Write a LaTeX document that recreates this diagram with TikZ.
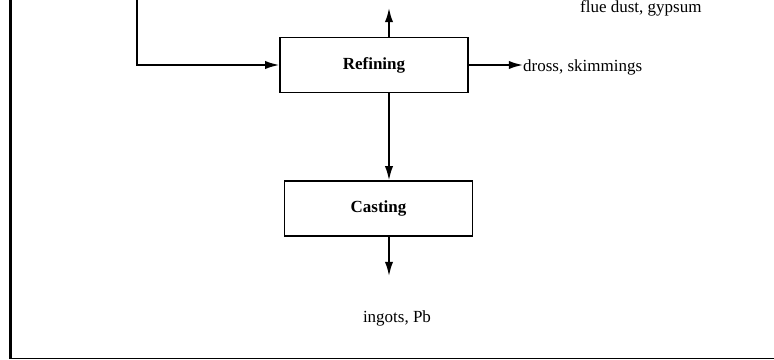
\documentclass[tikz,border=0pt]{standalone}
\usepackage{fontspec}
\setmainfont{Liberation Serif}
\usetikzlibrary{arrows.meta,positioning}
\tikzset{stepbox/.style={draw,line width=1.2pt,minimum width=5.64cm,minimum height=1.65cm,
  font=\fontsize{14.5}{17}\selectfont\bfseries}}
\tikzset{flowtext/.style={inner sep=0,font=\fontsize{14.5}{17}\selectfont}}
\tikzset{flow/.style={line width=1.5pt,-{Latex[length=12pt,width=7pt]}}}

\begin{document}
\begin{tikzpicture}[x=0.03cm,y=-0.03cm]
\useasboundingbox (0,0) rectangle (774,360);
\node[stepbox] (refining) at (374,65) {Refining};
\node[stepbox] (casting) at (378.5,208.5) {Casting};
\node[flowtext,anchor=west] (dross) at (523,67) {dross, skimmings};
\node[flowtext,anchor=base west] (flue) at (580,12) {flue dust, gypsum};
\node[flowtext] (ingots) at (397,318) {ingots, Pb};
\coordinate (feed) at (137,0);
\coordinate (axis) at (389,8);
\coordinate (castout) at (389,276);
\draw[flow] (feed) |- (refining.west);
\draw[flow] (refining.north -| axis) -- (axis);
\draw[flow] (refining.east) -- (refining.east -| dross.west);
\draw[flow] (refining.south -| axis) -- (casting.north -| axis);
\draw[flow] (casting.south -| axis) -- (castout);
% frame
\draw[line width=3.4pt] (10.5,0) -- (10.5,358.5);
\draw[line width=1.6pt] (9,358.5) -- (774,358.5);
\end{tikzpicture}
\end{document}
